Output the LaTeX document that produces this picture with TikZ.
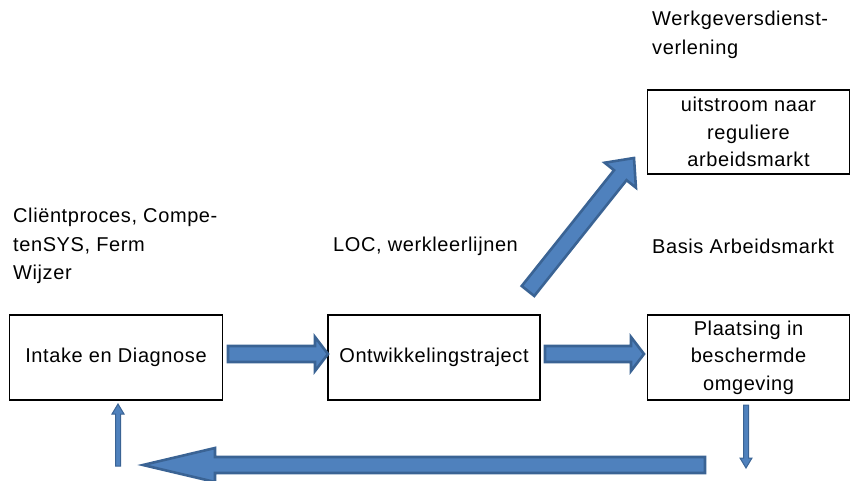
\documentclass[tikz,border=0pt]{standalone}
\usepackage{fontspec}
\setmainfont{Liberation Sans}[LetterSpace=3]
\usetikzlibrary{calc}
\definecolor{arrfill}{HTML}{4F81BD}
\definecolor{arrline}{HTML}{3A6394}
\newcommand\blockarr[6]{%
  \coordinate (#2h) at ($(#3)!#6!(#2)$);
  \draw[#1] ($(#2)!#4!90:(#3)$) -- ($(#2h)!#4!90:(#3)$) -- ($(#2h)!#5!90:(#3)$)
    -- (#3) -- ($(#2h)!#5!-90:(#3)$) -- ($(#2h)!#4!-90:(#3)$)
    -- ($(#2)!#4!-90:(#3)$) -- cycle;
}
\tikzset{
  txt/.style={font=\fontsize{20}{28.5}\selectfont, inner sep=0pt, align=left, anchor=west},
  box/.style={draw, line width=1.6pt, minimum height=85pt, inner sep=0pt,
    font=\fontsize{20}{27.5}\selectfont, align=center},
  blk/.style={fill=arrfill, draw=arrline, line width=2.6pt, line join=miter},
  blks/.style={fill=arrfill, draw=arrline, line width=1pt, line join=miter}
}
\begin{document}
\begin{tikzpicture}[x=1pt,y=-1pt]
\useasboundingbox (0,0) rectangle (851,481);
% text labels
\node[txt] (lclient) at (13,246) {Cliëntproces, Compe-\\tenSYS, Ferm\\Wijzer};
\node[txt] (lloc) at (333,246) {LOC, werkleerlijnen};
\node[txt] (lbasis) at (652,246) {Basis Arbeidsmarkt};
\node[txt] (lwerk) at (652,35) {Werkgeversdienst-\\verlening};
% boxes
\node[box, minimum width=213pt] (intake) at (116,357.5) {Intake en Diagnose};
\node[box, minimum width=212pt] (ontw) at (434,357.5) {Ontwikkelingstraject};
\node[box, minimum width=202pt] (plaats) at (748.5,357.5) {Plaatsing in\\beschermde\\omgeving};
\node[box, minimum width=202pt, minimum height=84pt] (uit) at (748.5,132) {uitstroom naar\\reguliere\\arbeidsmarkt};
% arrow end points
\coordinate (a1s) at (228,354);
\coordinate (a1e) at (328,354);
\coordinate (a2s) at (545,354);
\coordinate (a2e) at (644,354);
\coordinate (a3s) at (528,291);
\coordinate (a3e) at (634,158);
\coordinate (a4s) at (705,465);
\coordinate (a4e) at (143,465);
\coordinate (a5s) at (118,466);
\coordinate (a5e) at (118,404);
\coordinate (a6s) at (746,405);
\coordinate (a6e) at (746,468);
% arrows
\blockarr{blk}{a1s}{a1e}{8pt}{17pt}{13pt}
\blockarr{blk}{a2s}{a2e}{8pt}{17pt}{13pt}
\blockarr{blk}{a3s}{a3e}{8pt}{20pt}{22pt}
\blockarr{blk}{a4s}{a4e}{8pt}{17pt}{72pt}
\blockarr{blks}{a5s}{a5e}{2.5pt}{6pt}{10pt}
\blockarr{blks}{a6s}{a6e}{2.5pt}{6pt}{10pt}
\end{tikzpicture}
\end{document}
